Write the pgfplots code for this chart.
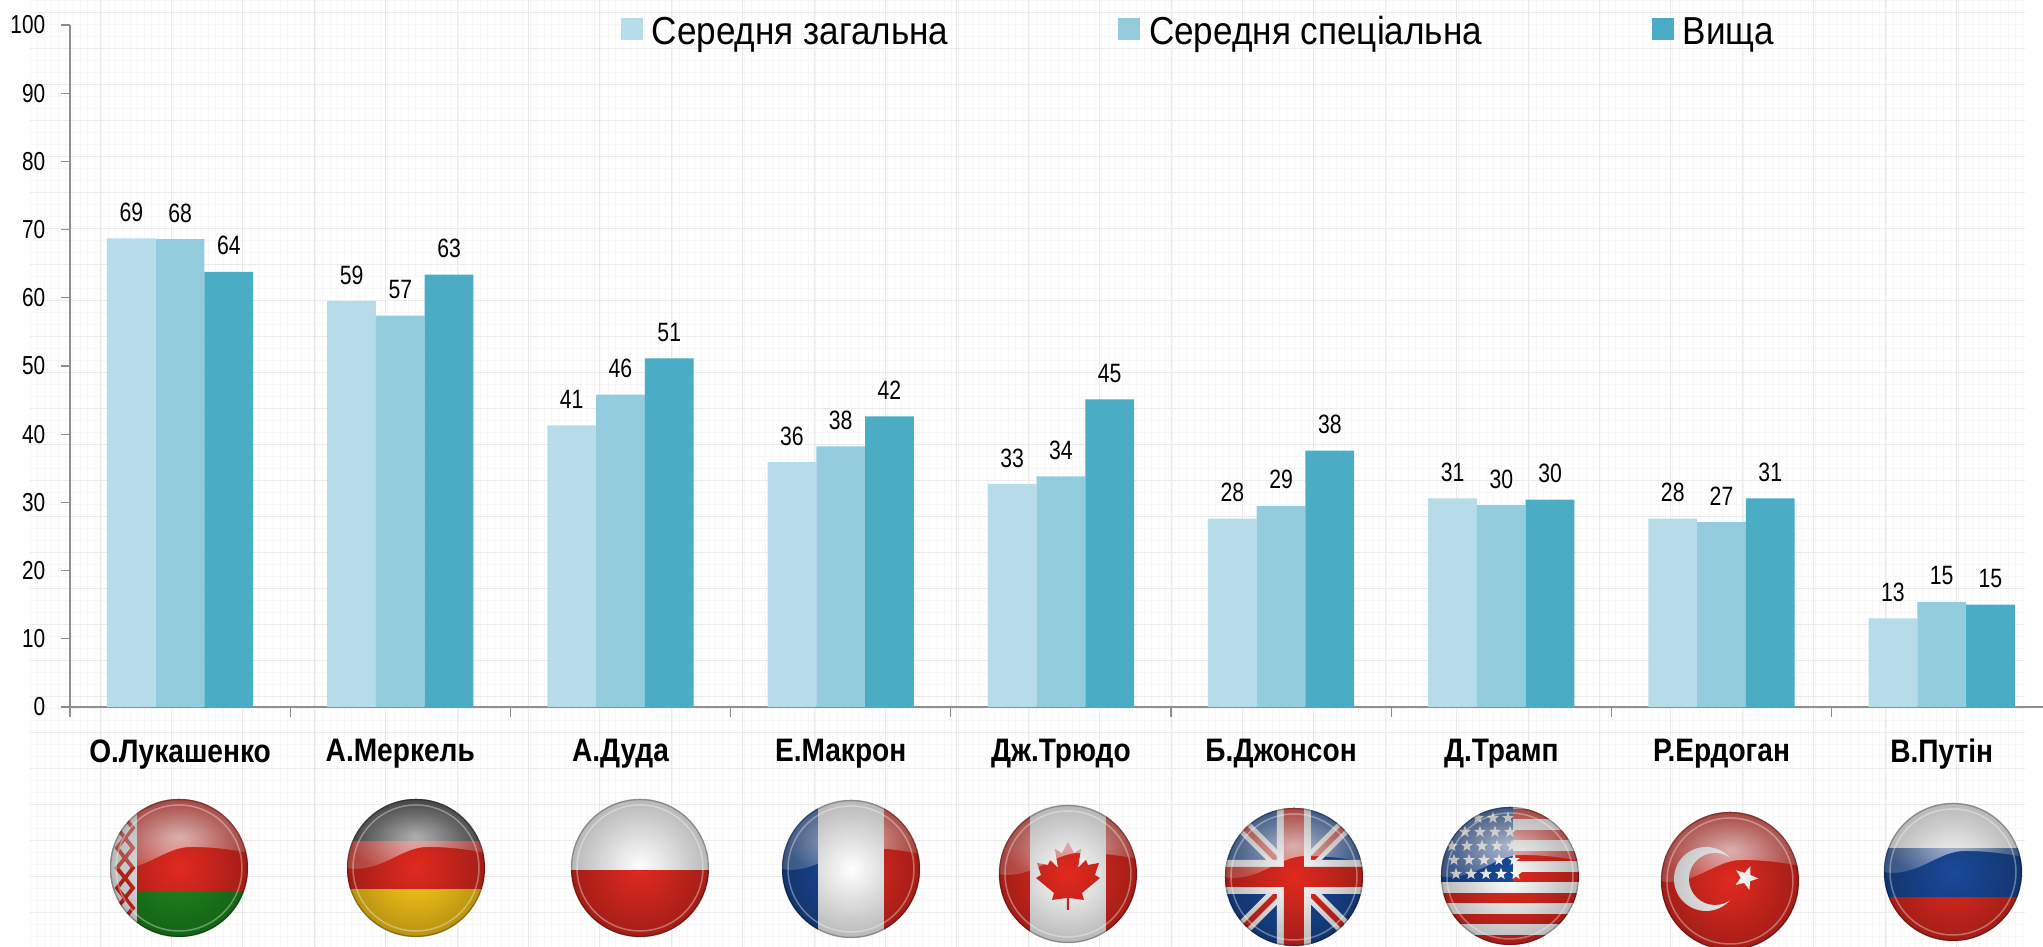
\documentclass[border=0pt]{standalone}
\usepackage{fontspec}
\usepackage{pgfplots}
\pgfplotsset{compat=1.18}
\usetikzlibrary{shapes.geometric,fadings}
\setmainfont{Liberation Sans}
\newfontfamily\narrow[FakeStretch=0.8]{Liberation Sans}
\newfontfamily\legfont[FakeStretch=0.9]{Liberation Sans}
\newfontfamily\catfont[FakeStretch=0.865]{Liberation Sans Bold}

\definecolor{barA}{HTML}{B5DCE8}
\definecolor{barB}{HTML}{93CCDD}
\definecolor{barC}{HTML}{4BACC6}
\definecolor{axgray}{HTML}{8E8E8E}
\definecolor{flred}{HTML}{E22A20}
\definecolor{flblue}{HTML}{1A4A9A}
\definecolor{flgreen}{HTML}{1E8A1E}
\definecolor{flyellow}{HTML}{FFCC1A}

\tikzfading[name=glossfade,inner color=transparent!25,outer color=transparent!75]
\tikzfading[name=rimfade,inner color=transparent!100,outer color=transparent!72]

\pgfplotstableread{
i  a    la b    lb c    lc
0  68.7 69 68.6 68 63.8 64
1  59.5 59 57.4 57 63.4 63
2  41.3 41 45.8 46 51.1 51
3  35.9 36 38.2 38 42.6 42
4  32.7 33 33.8 34 45.1 45
5  27.6 28 29.5 29 37.6 38
6  30.6 31 29.6 30 30.4 30
7  27.6 28 27.1 27 30.6 31
8  13.0 13 15.4 15 15.0 15
}\polls

% flag frame: #1 x, #2 y (pixels), #3 drawing, centre at 0,0, radius 69
\newcommand{\flag}[3]{%
  \begin{scope}[shift={(#1,#2)}]
    \begin{scope}
      \clip (0,0) circle[radius=69];
      #3
      \fill[white,path fading=glossfade] (-70,0) .. controls (-35,6) and (-15,-22) .. (13,-21)
        .. controls (35,-21) and (55,-18) .. (70,-15) -- (70,-70) -- (-70,-70) -- cycle;
      \fill[black,path fading=rimfade] (0,0) circle[radius=69];
    \end{scope}
    \draw[white,opacity=.35,line width=.6pt] (0,0) circle[radius=63];
    \draw[black,opacity=.25,line width=.6pt] (0,0) circle[radius=68.5];
  \end{scope}}

\begin{document}
\begin{tikzpicture}
\path[use as bounding box] (0pt,0pt) rectangle (817.2pt,378.8pt);
% pixel coordinates of the reference, y going down
\begin{scope}[x=0.4pt,y=-0.4pt,yshift=378.8pt]
  \foreach \vx in {30,37.14,...,2025} \draw[black!3,line width=.2pt] (\vx,0) -- (\vx,947);
  \foreach \hy in {0,12,...,947} \draw[black!3,line width=.2pt] (30,\hy) -- (2025,\hy);
  \foreach \vx in {100,171.4,...,2025} \draw[black!8,line width=.25pt] (\vx,0) -- (\vx,947);
  \foreach \hy in {12,48,...,947} \draw[black!8,line width=.25pt] (30,\hy) -- (2025,\hy);
\end{scope}

\begin{axis}[
  at={(28pt,96pt)}, anchor=south west,
  scale only axis, width=789.2pt, height=272.8pt,
  ybar=0pt, bar width=19.5pt,
  xmin=-0.5, xmax=8.46, ymin=0, ymax=100,
  clip=false,
  axis x line=bottom, axis y line=left,
  axis line style={-,draw=axgray},
  x axis line style={line width=.8pt},
  y axis line style={line width=.6pt},
  tick align=outside,
  major tick length=3.4pt, minor tick length=4pt,
  ytick={0,10,...,100},
  ytick style={draw=axgray,line width=.5pt},
  xtick={0,...,8},
  xticklabels={О.Лукашенко,А.Меркель,А.Дуда,Е.Макрон,Дж.Трюдо,Б.Джонсон,Д.Трамп,Р.Ердоган,В.Путін},
  xtick style={draw=none},
  minor xtick={-0.5,0.5,...,8},
  minor x tick style={draw=axgray,line width=.5pt},
  yticklabel style={font=\narrow\fontsize{10.4pt}{11pt}\selectfont,
    /pgf/number format/assume math mode=true,xshift=-3pt},
  xticklabel style={font=\catfont\fontsize{13pt}{15pt}\selectfont,yshift=-6pt},
  nodes near coords,
  point meta=explicit symbolic,
  every node near coord/.append style={font=\narrow\fontsize{10.6pt}{12pt}\selectfont,
    anchor=center,yshift=10.4pt,inner sep=0pt},
  legend columns=3,
  legend cell align=left,
  legend style={draw=none,fill=none,at={(220.2pt,278.3pt)},anchor=north west,inner sep=0pt,
    font=\legfont\fontsize{15.6pt}{17pt}\selectfont,
    /tikz/every odd column/.append style={column sep=1.5pt},
    /tikz/every even column/.append style={column sep=66pt}},
  legend image code/.code={\fill[#1] (0pt,-3.1pt) rectangle (8.8pt,5.7pt);},
]
\addplot[fill=barA,draw=none] table[x=i,y=a,meta=la] {\polls};
\addplot[fill=barB,draw=none] table[x=i,y=b,meta=lb] {\polls};
\addplot[fill=barC,draw=none] table[x=i,y=c,meta=lc] {\polls};
\legend{Середня загальна,Середня спеціальна,Вища}
\end{axis}

\begin{scope}[x=0.4pt,y=-0.4pt,yshift=378.8pt]
  \flag{179}{868}{% Belarus
    \fill[flred] (-70,-70) rectangle (70,24);
    \fill[flgreen] (-70,24) rectangle (70,70);
    \fill[white] (-70,-70) rectangle (-42,70);
    \foreach \zy in {-60,-40,...,60}
      \draw[flred,line width=1.5pt] (-62,\zy) -- (-54,\zy-10) -- (-46,\zy) -- (-54,\zy+10) -- cycle;
  }
  \flag{416}{868}{% Germany
    \fill[black!85] (-70,-70) rectangle (70,-27);
    \fill[flred] (-70,-27) rectangle (70,21);
    \fill[flyellow] (-70,21) rectangle (70,70);
  }
  \flag{640}{868}{% Poland
    \fill[white] (-70,-70) rectangle (70,2);
    \fill[flred] (-70,2) rectangle (70,70);
  }
  \flag{851}{869}{% France
    \fill[flblue] (-70,-70) rectangle (-33,70);
    \fill[white] (-33,-70) rectangle (33,70);
    \fill[flred] (33,-70) rectangle (70,70);
  }
  \flag{1068}{874}{% Canada
    \fill[white] (-70,-70) rectangle (70,70);
    \fill[flred] (-70,-70) rectangle (-38,70);
    \fill[flred] (38,-70) rectangle (70,70);
    \fill[flred] (0,-32) -- (6,-21) -- (13,-25) -- (10,-6) -- (18,-14) -- (20,-9) -- (31,-11)
      -- (27,1) -- (32,4) -- (14,19) -- (16,26) -- (1,24) -- (1,36) -- (-1,36) -- (-1,24)
      -- (-16,26) -- (-14,19) -- (-32,4) -- (-27,1) -- (-31,-11) -- (-20,-9) -- (-18,-14)
      -- (-10,-6) -- (-13,-25) -- (-6,-21) -- cycle;
  }
  \flag{1294}{877}{% United Kingdom
    \fill[flblue] (-70,-70) rectangle (70,70);
    \draw[white,line width=6pt] (-70,-70) -- (70,70) (-70,70) -- (70,-70);
    \draw[flred,line width=2.2pt] (-70,-70) -- (70,70) (-70,70) -- (70,-70);
    \fill[white] (-17,-70) rectangle (17,70) (-70,-17) rectangle (70,17);
    \fill[flred] (-10,-70) rectangle (10,70) (-70,-10) rectangle (70,10);
  }
  \flag{1510}{876}{% United States
    \fill[white] (-70,-70) rectangle (70,70);
    \foreach \sy in {-67,-46,...,70} \fill[flred] (-70,\sy) rectangle (70,\sy+10);
    \fill[flblue] (-70,-70) rectangle (3,6);
    \foreach \rw in {0,...,4} \foreach \cl in {0,...,4}
      \node[star,star points=5,star point ratio=2.4,fill=white,inner sep=0pt,minimum size=5pt]
        at (-58+\cl*15+\rw*2-4,-58+\rw*14) {};
  }
  \flag{1730}{881}{% Turkey
    \fill[flred] (-70,-70) rectangle (70,70);
    \fill[white] (-24,-2) circle[radius=32];
    \fill[flred] (-15,-2) circle[radius=26];
    \node[star,star points=5,star point ratio=2.4,fill=white,inner sep=0pt,minimum size=10pt,rotate=-20]
      at (16,-3) {};
  }
  \flag{1953}{872}{% Russia
    \fill[white] (-70,-70) rectangle (70,-24);
    \fill[flblue] (-70,-24) rectangle (70,25);
    \fill[flred] (-70,25) rectangle (70,70);
  }
\end{scope}
\end{tikzpicture}
\end{document}
